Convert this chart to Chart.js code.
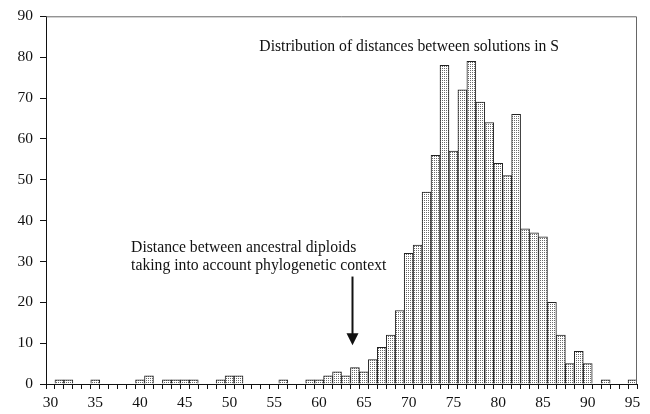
<!DOCTYPE html>
<html>
<head>
<meta charset="utf-8">
<script src="https://cdn.jsdelivr.net/npm/chart.js@4"></script>
<style>
  html, body { margin: 0; padding: 0; background: #fff; }
  #box { width: 650px; height: 414px; }
</style>
</head>
<body>
<div id="box"><canvas id="graf"></canvas></div>
<script>
// distance categories 30..95
const distances = [];
for (let d = 30; d <= 95; d++) distances.push(String(d));

// number of pairs of solutions at each distance
const counts = [
  0, 1, 1, 0, 0, 1, 0, 0, 0, 0,      // 30-39
  1, 2, 0, 1, 1, 1, 1, 0, 0, 1,      // 40-49
  2, 2, 0, 0, 0, 0, 1, 0, 0, 1,      // 50-59
  1, 2, 3, 2, 4, 3, 6, 9, 12, 18,    // 60-69
  32, 34, 47, 56, 78, 57, 72, 79, 69, 64, // 70-79
  54, 51, 66, 38, 37, 36, 20, 12, 5, 8,   // 80-89
  5, 0, 1, 0, 0, 1                   // 90-95
];

const xTickLabels = ['30', '35', '40', '45', '50', '55', '60', '65', '70', '75', '80', '85', '90', '95'];
const yTicks = [0, 10, 20, 30, 40, 50, 60, 70, 80, 90];

const labelTop = 'Distribution of distances between solutions in S';
const labelLeft = ['Distance between ancestral diploids', 'taking into account phylogenetic context'];
const arrowAt = 63.7; // distance the arrow points at

// stippled fill like the original
function stipple() {
  const c = document.createElement('canvas');
  c.width = 2; c.height = 2;
  const g = c.getContext('2d');
  g.fillStyle = '#fff';
  g.fillRect(0, 0, 2, 2);
  g.fillStyle = '#6a6a6a';
  g.fillRect(0, 0, 1, 1);
  return g.createPattern(c, 'repeat');
}

const serif = 'Liberation Serif';

// frame, texts and arrow
const extras = {
  id: 'extras',
  afterDraw(chart) {
    const ctx = chart.ctx;
    const x = chart.scales.x, y = chart.scales.y;
    const a = chart.chartArea;
    ctx.save();
    ctx.strokeStyle = '#666';
    ctx.lineWidth = 1;
    ctx.beginPath();
    ctx.moveTo(a.left, a.top + 0.5);
    ctx.lineTo(a.right - 0.5, a.top + 0.5);
    ctx.lineTo(a.right - 0.5, a.bottom);
    ctx.stroke();

    ctx.fillStyle = '#111';
    ctx.font = '15.7px "' + serif + '"';
    ctx.textBaseline = 'alphabetic';
    ctx.textAlign = 'right';
    ctx.fillText(labelTop, x.getPixelForValue(86.8 - 30), y.getPixelForValue(81.5));
    ctx.textAlign = 'left';
    ctx.fillText(labelLeft[0], x.getPixelForValue(39.0 - 30), y.getPixelForValue(32.4));
    ctx.fillText(labelLeft[1], x.getPixelForValue(39.0 - 30), y.getPixelForValue(27.8));

    const ax = Math.round(x.getPixelForValue(arrowAt - 30)) + 0.5;
    const y0 = y.getPixelForValue(26.3);
    const tip = y.getPixelForValue(9.5);
    ctx.strokeStyle = '#111';
    ctx.lineWidth = 2;
    ctx.beginPath();
    ctx.moveTo(ax, y0);
    ctx.lineTo(ax, tip - 8);
    ctx.stroke();
    ctx.beginPath();
    ctx.moveTo(ax - 6, tip - 12);
    ctx.lineTo(ax + 6, tip - 12);
    ctx.lineTo(ax, tip);
    ctx.closePath();
    ctx.fill();
    ctx.restore();
  }
};

const ctx = document.getElementById('graf').getContext('2d');
new Chart(ctx, {
  type: 'bar',
  data: {
    labels: distances,
    datasets: [{
      data: counts,
      backgroundColor: stipple(),
      borderColor: '#222',
      borderWidth: 1,
      borderSkipped: 'bottom',
      barPercentage: 1,
      categoryPercentage: 1
    }]
  },
  options: {
    responsive: true,
    maintainAspectRatio: false,
    animation: false,
    layout: { padding: { top: 15, right: 13, left: 0, bottom: 0 } },
    plugins: { legend: { display: false }, tooltip: { enabled: false } },
    scales: {
      x: {
        offset: true,
        grid: { display: true, drawOnChartArea: false, offset: true, tickLength: 5, color: '#111' },
        border: { color: '#111', width: 1 },
        ticks: {
          autoSkip: false,
          maxRotation: 0,
          padding: 5,
          color: '#111',
          font: { family: serif, size: 15.5 },
          callback: function (v) {
            const l = distances[v];
            return xTickLabels.includes(l) ? l : '';
          }
        },
        afterFit: s => { s.height = 30; }
      },
      y: {
        min: 0,
        max: 90,
        afterBuildTicks: s => { s.ticks = yTicks.map(v => ({ value: v })); },
        grid: { display: true, drawOnChartArea: false, tickLength: 6, color: '#111' },
        border: { color: '#111', width: 1 },
        ticks: {
          padding: 7,
          color: '#111',
          font: { family: serif, size: 15.5 }
        },
        afterFit: s => { s.width = 46; }
      }
    }
  },
  plugins: [extras]
});
</script>
</body>
</html>
